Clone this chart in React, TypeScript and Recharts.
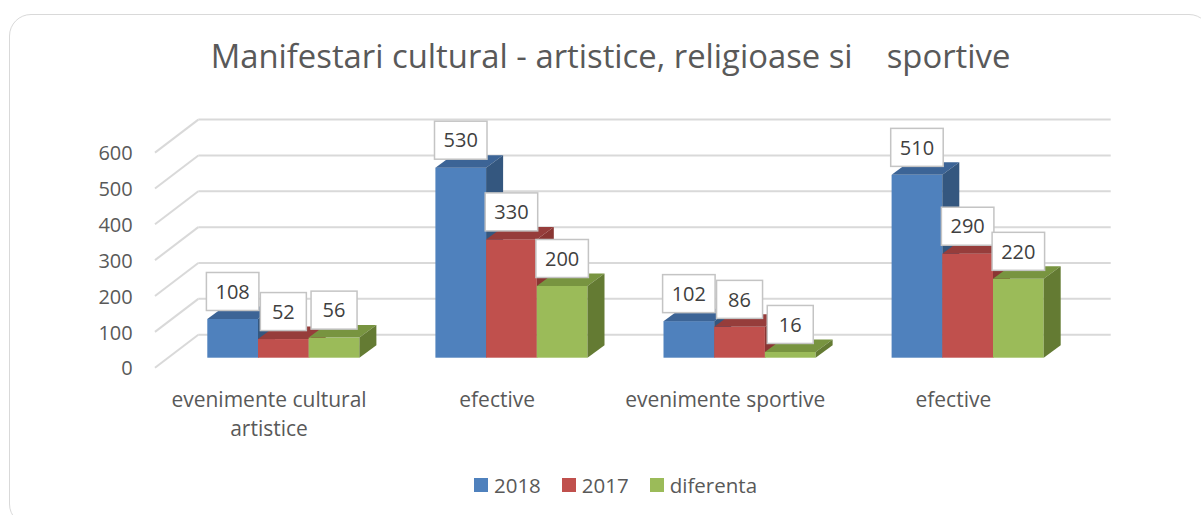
import React from 'react';
import { BarChart, Bar, XAxis, YAxis, CartesianGrid, Legend, LabelList } from 'recharts';

// chart values
const categories = ['evenimente cultural artistice', 'efective', 'evenimente sportive', 'efective'];
const values2018 = [108, 530, 102, 510];
const values2017 = [52, 330, 86, 290];
const valuesDiferenta = [56, 200, 16, 220];
const yTicks = [0, 100, 200, 300, 400, 500, 600];

const series = [
  { key: 'v2018', name: '2018', front: '#4f81bd', top: '#3c6496', side: '#34577f' },
  { key: 'v2017', name: '2017', front: '#c0504d', top: '#963d3b', side: '#8a3633' },
  { key: 'diferenta', name: 'diferenta', front: '#9bbb59', top: '#789440', side: '#647b33' },
];

const data = categories.map((category, i) => ({
  category,
  v2018: values2018[i],
  v2017: values2017[i],
  diferenta: valuesDiferenta[i],
}));

const FONT = "'Open Sans', sans-serif";
const TEXT = '#595959';

// 3d offsets (px) relative to the plane the bar fronts sit in
const DEPTH_X = 17;
const DEPTH_Y = 12.5;
const BACK_X = 29;
const BACK_Y = 23;
const FRONT_X = -14.3;
const FRONT_Y = 10;

const Bar3D = (props: any) => {
  const { x, y, width, height, colors } = props;
  if (width == null || height == null) return null;
  const x2 = x + width;
  const yb = y + height;
  return (
    <g>
      <rect x={x} y={y} width={width} height={height} fill={colors.front} />
      <polygon
        points={`${x},${y} ${x2},${y} ${x2 + DEPTH_X},${y - DEPTH_Y} ${x + DEPTH_X},${y - DEPTH_Y}`}
        fill={colors.top}
      />
      <polygon
        points={`${x2},${y} ${x2 + DEPTH_X},${y - DEPTH_Y} ${x2 + DEPTH_X},${yb - DEPTH_Y} ${x2},${yb}`}
        fill={colors.side}
      />
    </g>
  );
};

// back wall line plus the slanted line on the side wall
const GridLine = (props: any) => {
  const { x1, y1, x2, y2 } = props;
  return (
    <g>
      <line x1={x1 + FRONT_X} y1={y1 + FRONT_Y} x2={x1 + BACK_X} y2={y1 - BACK_Y} stroke="#d9d9d9" strokeWidth={2} />
      <line x1={x1 + BACK_X} y1={y1 - BACK_Y} x2={x2 + BACK_X} y2={y2 - BACK_Y} stroke="#d9d9d9" strokeWidth={2} />
    </g>
  );
};

const DataLabel = (props: any) => {
  const { x, y, width, value } = props;
  const txt = String(value);
  const w = 6.5 * txt.length + 33;
  const h = 38;
  const cx = x + width / 2;
  const bottom = y - 8.5;
  return (
    <g>
      <rect x={cx - w / 2} y={bottom - h} width={w} height={h} fill="#ffffff" stroke="#c4c4c4" strokeWidth={1.5} />
      <text x={cx} y={bottom - h / 2} dy="0.36em" textAnchor="middle" fontFamily={FONT} fontSize={20} fill="#404040">
        {txt}
      </text>
    </g>
  );
};

const wrapLabel = (s: string, maxWidth: number) => {
  const words = s.split(' ');
  const lines: string[] = [];
  let cur = '';
  words.forEach((w) => {
    const next = cur ? cur + ' ' + w : w;
    if (next.length * 10.4 > maxWidth && cur) {
      lines.push(cur);
      cur = w;
    } else {
      cur = next;
    }
  });
  if (cur) lines.push(cur);
  return lines;
};

const CategoryTick = (props: any) => {
  const { x, y, payload } = props;
  const lines = wrapLabel(payload.value, 215);
  return (
    <text x={x + FRONT_X} y={y + 49} textAnchor="middle" fontFamily={FONT} fontSize={21} fill={TEXT}>
      {lines.map((l, i) => (
        <tspan key={i} x={x + FRONT_X} dy={i === 0 ? 0 : 29}>
          {l}
        </tspan>
      ))}
    </text>
  );
};

const ValueTick = (props: any) => {
  const { x, y, payload } = props;
  return (
    <text x={x - 36.6} y={y + 10.5} dy="0.36em" textAnchor="end" fontFamily={FONT} fontSize={20} fill={TEXT}>
      {payload.value}
    </text>
  );
};

const renderLegend = () => (
  <div
    style={{
      display: 'flex',
      justifyContent: 'center',
      alignItems: 'center',
      height: 28,
      fontFamily: FONT,
      fontSize: 20.5,
      color: TEXT,
    }}
  >
    {series.map((s, i) => (
      <div key={s.key} style={{ display: 'flex', alignItems: 'center', marginLeft: i === 0 ? 0 : 21 }}>
        <span style={{ display: 'inline-block', width: 14, height: 14, background: s.front, marginRight: 6 }} />
        <span>{s.name}</span>
      </div>
    ))}
  </div>
);

export default function App() {
  return (
    <div style={{ position: 'absolute', left: 0, top: 0, width: 1201, height: 515, overflow: 'hidden', background: '#fff' }}>
      <div
        style={{
          position: 'absolute',
          left: 9,
          top: 14,
          width: 1200,
          height: 510,
          border: '1.5px solid #d9d9d9',
          borderRadius: 22,
        }}
      />
      <div
        style={{
          position: 'absolute',
          left: 0,
          top: 34,
          width: 1221,
          textAlign: 'center',
          fontFamily: FONT,
          fontSize: 32.8,
          lineHeight: '44px',
          color: TEXT,
          whiteSpace: 'pre',
        }}
      >
        {'Manifestari cultural - artistice, religioase si    sportive'}
      </div>
      <div style={{ position: 'absolute', left: 0, top: 0 }}>
        <BarChart
          width={1201}
          height={515}
          data={data}
          margin={{ top: 142.6, right: 119.3, left: 109.3, bottom: 97.3 }}
          barSize={50.7}
          barGap={0}
        >
          <CartesianGrid vertical={false} horizontal={(p: any) => <GridLine key={p.key} {...p} />} />
          <XAxis
            dataKey="category"
            interval={0}
            tickLine={false}
            axisLine={false}
            tickSize={0}
            tickMargin={0}
            height={60}
            tick={<CategoryTick />}
          />
          <YAxis
            domain={[0, 600]}
            ticks={yTicks}
            width={60}
            tickLine={false}
            axisLine={false}
            tickSize={0}
            tickMargin={0}
            tick={<ValueTick />}
          />
          <Legend
            verticalAlign="middle"
            align="center"
            layout="horizontal"
            wrapperStyle={{ top: 471, left: 15, width: 1201 }}
            content={renderLegend}
          />
          {series.map((s) => (
            <Bar
              key={s.key}
              dataKey={s.key}
              name={s.name}
              fill={s.front}
              isAnimationActive={false}
              shape={(p: any) => <Bar3D {...p} colors={s} />}
            >
              <LabelList dataKey={s.key} content={<DataLabel />} />
            </Bar>
          ))}
        </BarChart>
      </div>
    </div>
  );
}
